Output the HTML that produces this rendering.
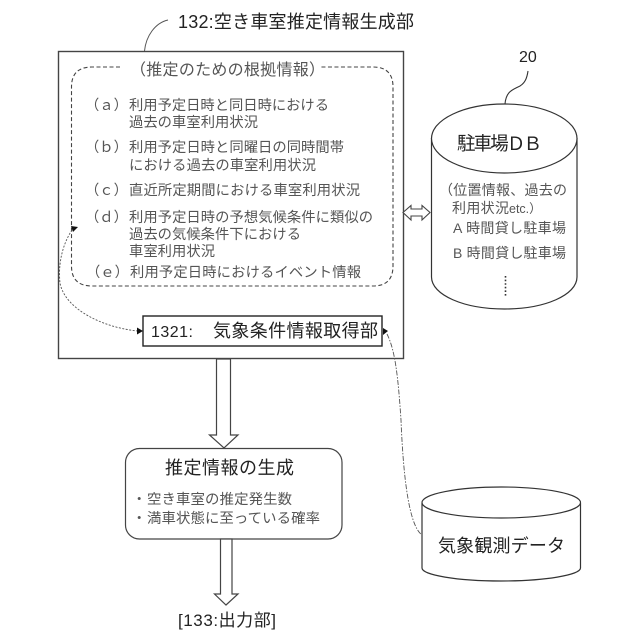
<!DOCTYPE html>
<html>
<head>
<meta charset="utf-8">
<style>
html,body{margin:0;padding:0;background:#fff}
svg{display:block}
text{font-family:"Liberation Sans","Noto Sans CJK JP",sans-serif;fill:#444}
.d{fill:#222}
.g{fill:#555}
</style>
</head>
<body>
<svg width="640" height="640" viewBox="0 0 640 640" xmlns="http://www.w3.org/2000/svg">
<!-- Main box -->
<rect x="58.5" y="51.5" width="345" height="307" fill="#fff" stroke="#444" stroke-width="1.4"/>
<path d="M144.500 51 C146 36 155 23 168 20" fill="none" stroke="#555" stroke-width="1"/>
<text class="d" x="178" y="28" font-size="18" textLength="236" lengthAdjust="spacing">132:空き車室推定情報生成部</text>

<!-- Dashed rounded -->
<path d="M120 67 H92 Q71.500 67 71.500 87 V266 Q71.500 286 92 286 H373 Q393 286 393 266 V87 Q393 67 373 67 H320" fill="none" stroke="#444" stroke-width="1.1" stroke-dasharray="4 2.500"/>
<text class="g" x="130" y="75" font-size="16" textLength="195" lengthAdjust="spacing">（推定のための根拠情報）</text>

<g>
<text class="g" x="85" y="110" font-size="14.300">（ａ）</text>
<text class="g" x="129" y="110" font-size="14.300" textLength="200" lengthAdjust="spacing">利用予定日時と同日時における</text>
<text class="g" x="129" y="127" font-size="14.300" textLength="129" lengthAdjust="spacing">過去の車室利用状況</text>
<text class="g" x="85" y="152" font-size="14.300">（ｂ）</text>
<text class="g" x="129" y="152" font-size="14.300" textLength="215" lengthAdjust="spacing">利用予定日時と同曜日の同時間帯</text>
<text class="g" x="129" y="170" font-size="14.300" textLength="187" lengthAdjust="spacing">における過去の車室利用状況</text>
<text class="g" x="85" y="195" font-size="14.300">（ｃ）</text>
<text class="g" x="129" y="195" font-size="14.300" textLength="231" lengthAdjust="spacing">直近所定期間における車室利用状況</text>
<text class="g" x="85" y="222" font-size="14.300">（ｄ）</text>
<text class="g" x="129" y="222" font-size="14.300" textLength="244" lengthAdjust="spacing">利用予定日時の予想気候条件に類似の</text>
<text class="g" x="129" y="239" font-size="14.300" textLength="172" lengthAdjust="spacing">過去の気候条件下における</text>
<text class="g" x="129" y="256" font-size="14.300" textLength="86" lengthAdjust="spacing">車室利用状況</text>
<text class="g" x="86" y="277" font-size="14.300">（ｅ）</text>
<text class="g" x="130" y="277" font-size="14.300" textLength="231" lengthAdjust="spacing">利用予定日時におけるイベント情報</text>
</g>

<!-- 1321 box -->
<rect x="143" y="316" width="239" height="30" fill="#fff" stroke="#222" stroke-width="1.400"/>
<text class="d" x="151" y="337" font-size="16" textLength="42" lengthAdjust="spacing">1321:</text>
<text class="d" x="213" y="337" font-size="18" textLength="165" lengthAdjust="spacing">気象条件情報取得部</text>

<!-- Left connector -->
<path d="M72 230 C62 245 58 265 60 283 C65 310 105 328 138 331" fill="none" stroke="#555" stroke-width="0.900" stroke-dasharray="2 1.500"/>
<polygon points="71,226 78,227 73,232" fill="#111"/>
<polygon points="137,327.500 143,331 137,334.500" fill="#111"/>

<!-- Right connector -->
<path d="M387 334 C395 350 398 375 401 420 C403 470 408 525 422 535" fill="none" stroke="#555" stroke-width="0.900" stroke-dasharray="5 1.500 1.500 1.500"/>
<polygon points="383,328 388,331 383,335" fill="#111"/>

<!-- Down arrow 1 -->
<path d="M216.500 359 H230.500 V435 H238 L224 448 L209.500 435 H216.500 Z" fill="#fff" stroke="#444" stroke-width="1.200"/>

<!-- Round box -->
<rect x="125.500" y="448.500" width="216.500" height="90.500" rx="14" ry="14" fill="#fff" stroke="#444" stroke-width="1.200"/>
<text class="d" x="165" y="474" font-size="18" textLength="129" lengthAdjust="spacing">推定情報の生成</text>
<text class="g" x="132" y="504" font-size="14.400">・</text>
<text class="g" x="147" y="504" font-size="14.400" textLength="145" lengthAdjust="spacing">空き車室の推定発生数</text>
<text class="g" x="132" y="523" font-size="14.400">・</text>
<text class="g" x="147" y="523" font-size="14.400" textLength="173" lengthAdjust="spacing">満車状態に至っている確率</text>

<!-- Down arrow 2 -->
<path d="M220.500 539 H232 V594 H238 L226 605 L214.500 594 H220.500 Z" fill="#fff" stroke="#444" stroke-width="1.200"/>
<text class="d" x="178" y="626" font-size="17" textLength="98" lengthAdjust="spacing">[133:出力部]</text>

<!-- DB cylinder -->
<path d="M505 104 C506 92 512 90 518 87 C525 84 527 78 528 71" fill="none" stroke="#333" stroke-width="1.100"/>
<text class="d" x="519" y="62" font-size="16">20</text>
<path d="M431.500 138 V277 C431.500 295 464 309 504.500 309 C545 309 577 295 577 277 V138" fill="#fff" stroke="#333" stroke-width="1.200"/>
<ellipse cx="504.250" cy="138.500" rx="72.750" ry="34.500" fill="#fff" stroke="#333" stroke-width="1.200"/>
<text class="d" x="457" y="150" font-size="18.500" textLength="85" lengthAdjust="spacing">駐車場ＤＢ</text>
<text class="g" x="439" y="195" font-size="14" textLength="128" lengthAdjust="spacing">（位置情報、過去の</text>
<text class="g" x="452" y="213" font-size="14" textLength="57" lengthAdjust="spacing">利用状況</text>
<text class="g" x="509" y="213" font-size="12.500">etc.）</text>
<text class="g" x="453" y="233" font-size="14" textLength="113" lengthAdjust="spacing">A 時間貸し駐車場</text>
<text class="g" x="453" y="258" font-size="14" textLength="113" lengthAdjust="spacing">B 時間貸し駐車場</text>
<line x1="505.500" y1="276" x2="505.500" y2="297" stroke="#333" stroke-width="1.600" stroke-dasharray="1.600 2"/>

<!-- Double arrow -->
<path d="M403 212.500 L411 205.500 V209 H422 V205.500 L430 212.500 L422 220 V216 H411 V220 Z" fill="#fff" stroke="#444" stroke-width="1.100"/>

<!-- Weather cylinder -->
<path d="M422 503 V568 C422 575 457 581 501 581 C545 581 580.500 575 580.500 568 V503" fill="#fff" stroke="#333" stroke-width="1.200"/>
<ellipse cx="501.250" cy="502.500" rx="79.250" ry="15.500" fill="#fff" stroke="#333" stroke-width="1.200"/>
<text class="d" x="438" y="552" font-size="18" textLength="127" lengthAdjust="spacing">気象観測データ</text>
</svg>
</body>
</html>
